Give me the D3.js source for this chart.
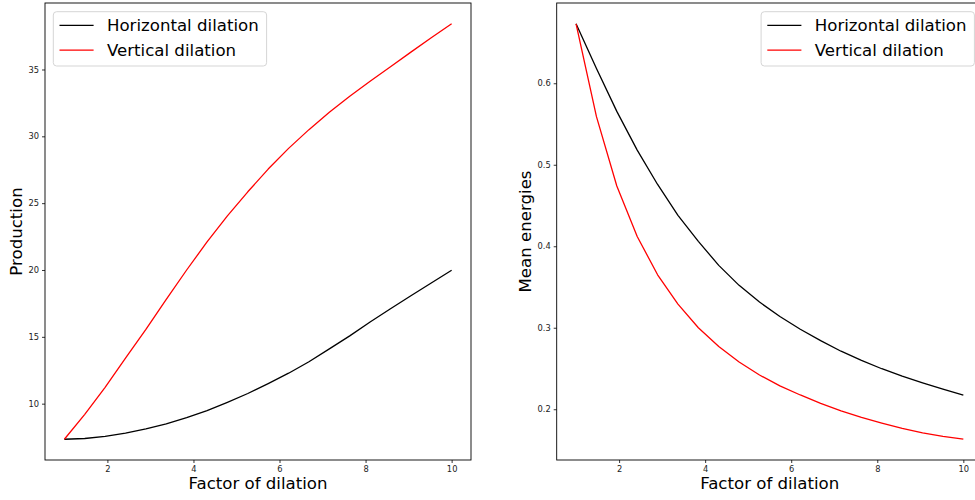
<!DOCTYPE html>
<html>
<head>
<meta charset="utf-8">
<script src="https://cdn.jsdelivr.net/npm/d3@7"></script>
<style>
  html, body { margin: 0; padding: 0; background: #fff; }
  svg { display: block; font-family: "DejaVu Sans", sans-serif; }
</style>
</head>
<body>
<svg id="chart" width="975" height="500"></svg>
<script>
// ---- data ----
const factors = [1.000, 1.474, 1.947, 2.421, 2.895, 3.368, 3.842, 4.316, 4.789, 5.263,
                 5.737, 6.211, 6.684, 7.158, 7.632, 8.105, 8.579, 9.053, 9.526, 10.000];
const productionHorizontal = [7.34, 7.395, 7.56, 7.80, 8.12, 8.48, 8.95, 9.48, 10.10, 10.76,
                              11.50, 12.28, 13.14, 14.10, 15.07, 16.11, 17.10, 18.07, 19.03, 19.98];
const productionVertical = [7.34, 9.20, 11.22, 13.40, 15.55, 17.80, 20.00, 22.10, 24.05, 25.85,
                            27.55, 29.10, 30.50, 31.80, 33.00, 34.12, 35.20, 36.30, 37.38, 38.42];
const energyHorizontal = [0.673, 0.618, 0.5655, 0.518, 0.4758, 0.438, 0.406, 0.3765, 0.352, 0.3315,
                          0.3138, 0.2982, 0.2842, 0.2712, 0.2600, 0.2497, 0.2406, 0.2324, 0.2246, 0.2172];
const energyVertical = [0.673, 0.559, 0.474, 0.412, 0.365, 0.329, 0.300, 0.277, 0.258, 0.242,
                        0.2286, 0.2175, 0.2073, 0.198, 0.190, 0.183, 0.1765, 0.171, 0.1668, 0.1632];
const xTicks = [2, 4, 6, 8, 10];
const productionTicks = [10, 15, 20, 25, 30, 35];
const energyTicks = [0.2, 0.3, 0.4, 0.5, 0.6];
const seriesNames = ["Horizontal dilation", "Vertical dilation"];
const seriesColors = ["#000000", "#ff0000"];

// ---- layout ----
const svg = d3.select("#chart");
const plotTop = 3, plotBottom = 460;
const panels = [
  { left: 45, right: 471, ys: [productionHorizontal, productionVertical], ticks: productionTicks,
    fmt: d3.format("d"), label: "Production", labelX: 16, legend: "left" },
  { left: 556.7, right: 982.7, ys: [energyHorizontal, energyVertical], ticks: energyTicks,
    fmt: d3.format(".1f"), label: "Mean energies", labelX: 525, legend: "right" }
];

function padDomain(lo, hi) { const m = (hi - lo) * 0.05; return [lo - m, hi + m]; }

panels.forEach(p => {
  const xExt = d3.extent(factors);
  const allY = p.ys.flat();
  const x = d3.scaleLinear().domain(padDomain(xExt[0], xExt[1])).range([p.left, p.right]);
  const y = d3.scaleLinear().domain(padDomain(d3.min(allY), d3.max(allY))).range([plotBottom, plotTop]);

  const g = svg.append("g");

  // lines
  const line = d3.line().x((d, i) => x(factors[i])).y(d => y(d));
  p.ys.forEach((vals, si) => {
    g.append("path").datum(vals)
      .attr("fill", "none").attr("stroke", seriesColors[si])
      .attr("stroke-width", 1.3).attr("stroke-linejoin", "round")
      .attr("d", line);
  });

  // axes
  const xAxis = d3.axisBottom(x).tickValues(xTicks).tickSize(3).tickPadding(3).tickFormat(d3.format("d"));
  const yAxis = d3.axisLeft(y).tickValues(p.ticks).tickSize(3).tickPadding(3).tickFormat(p.fmt);
  const gx = g.append("g").attr("transform", `translate(0,${plotBottom})`).call(xAxis);
  const gy = g.append("g").attr("transform", `translate(${p.left},0)`).call(yAxis);
  [gx, gy].forEach(a => {
    a.select(".domain").remove();
    a.selectAll("line").attr("stroke", "#000").attr("stroke-width", 0.8);
    a.selectAll("text").attr("font-family", "DejaVu Sans").attr("font-size", 8.3).attr("fill", "#222");
  });

  // frame
  g.append("rect").attr("x", p.left).attr("y", plotTop)
    .attr("width", p.right - p.left).attr("height", plotBottom - plotTop)
    .attr("fill", "none").attr("stroke", "#000").attr("stroke-width", 0.9);

  // axis labels
  g.append("text").attr("x", (p.left + p.right) / 2).attr("y", 489)
    .attr("text-anchor", "middle").attr("font-size", 16.6).attr("fill", "#000")
    .text("Factor of dilation");
  g.append("text")
    .attr("transform", `translate(${p.labelX + 6},${(plotTop + plotBottom) / 2}) rotate(-90)`)
    .attr("text-anchor", "middle").attr("font-size", 16.6).attr("fill", "#000")
    .text(p.label);

  // legend
  const lw = 213.3, lh = 54.3;
  const lx = p.legend === "left" ? p.left + 8.3 : p.right - 8.3 - lw;
  const ly = plotTop + 8.7;
  const lg = g.append("g").attr("transform", `translate(${lx},${ly})`);
  lg.append("rect").attr("width", lw).attr("height", lh).attr("rx", 3.3)
    .attr("fill", "#fff").attr("fill-opacity", 0.8)
    .attr("stroke", "#d5d5d5").attr("stroke-width", 1);
  seriesNames.forEach((name, i) => {
    const cy = 13.7 + i * 24.7;
    lg.append("line").attr("x1", 6.2).attr("x2", 40.3).attr("y1", cy).attr("y2", cy)
      .attr("stroke", seriesColors[i]).attr("stroke-width", 1.3);
    lg.append("text").attr("x", 53.7).attr("y", cy).attr("dy", "0.36em")
      .attr("font-size", 16.6).attr("fill", "#000").text(name);
  });
});
</script>
</body>
</html>
